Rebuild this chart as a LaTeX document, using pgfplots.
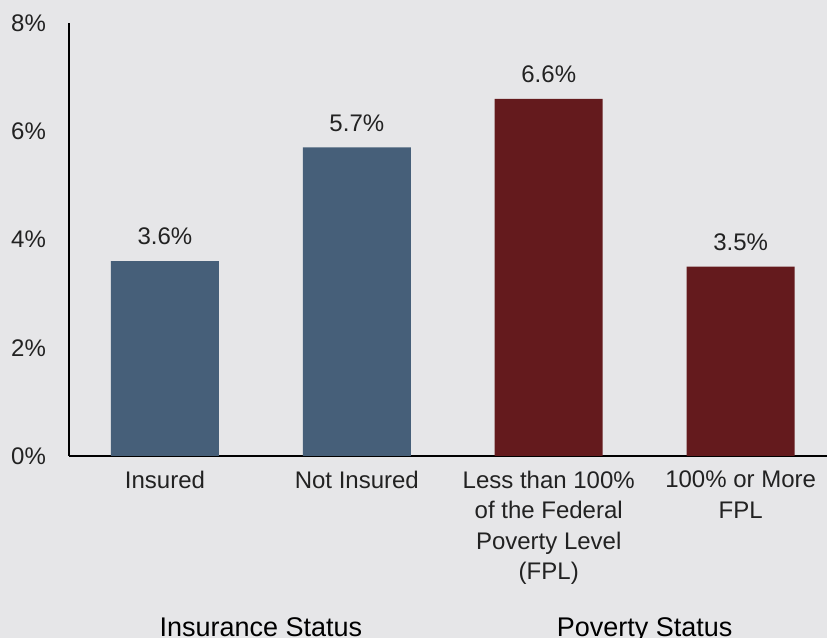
\documentclass[border=0pt]{standalone}
\usepackage{fontspec}
\setmainfont{Liberation Sans}
\usepackage{pgfplots}
\pgfplotsset{compat=1.18}
\definecolor{bgc}{HTML}{E6E6E8}
\definecolor{insblue}{HTML}{465F79}
\definecolor{povred}{HTML}{641A1D}
\definecolor{txt}{HTML}{222222}
\begin{document}
\begin{tikzpicture}
\fill[bgc] (0,0) rectangle (413.5pt,319pt);
\useasboundingbox (0,0) rectangle (413.5pt,319pt);
\begin{axis}[
    at={(34.5pt,91pt)}, anchor=south west,
    scale only axis,
    width=379pt, height=216.5pt,
    ybar, bar width=54pt, bar shift=0pt,
    xmin=-0.5, xmax=3.45,
    ymin=0, ymax=8,
    ytick={0,2,4,6,8},
    yticklabel={\pgfmathprintnumber{\tick}\%},
    /pgf/number format/assume math mode=true,
    yticklabel style={font=\fontsize{12}{14}\selectfont, text=txt, xshift=-8pt},
    xtick={0,1,2,3},
    xticklabels={Insured, Not Insured, {Less than 100\%\\of the Federal\\Poverty Level\\(FPL)}, {100\% or More\\FPL}},
    xticklabel style={font=\fontsize{12}{15.2}\selectfont, text=txt, align=center, yshift=-4pt},
    major tick length=0pt,
    axis x line*=bottom, axis y line*=left,
    axis line style={-, line width=1pt, black},
    nodes near coords={\pgfmathprintnumber[fixed,precision=1,fixed zerofill]{\pgfplotspointmeta}\%},
    every node near coord/.append style={font=\fontsize{12}{14}\selectfont, text=txt, yshift=4.5pt},
    clip=false,
]
  \addplot[fill=insblue, draw=none] coordinates {(0,3.6) (1,5.7)};
  \addplot[fill=povred, draw=none] coordinates {(2,6.6) (3,3.5)};
  \node[font=\fontsize{13.5}{16}\selectfont, anchor=base] at (axis cs:0.5,0) [yshift=-90.5pt] {Insurance Status};
  \node[font=\fontsize{13.5}{16}\selectfont, anchor=base] at (axis cs:2.5,0) [yshift=-90.5pt] {Poverty Status};
\end{axis}
\end{tikzpicture}
\end{document}
